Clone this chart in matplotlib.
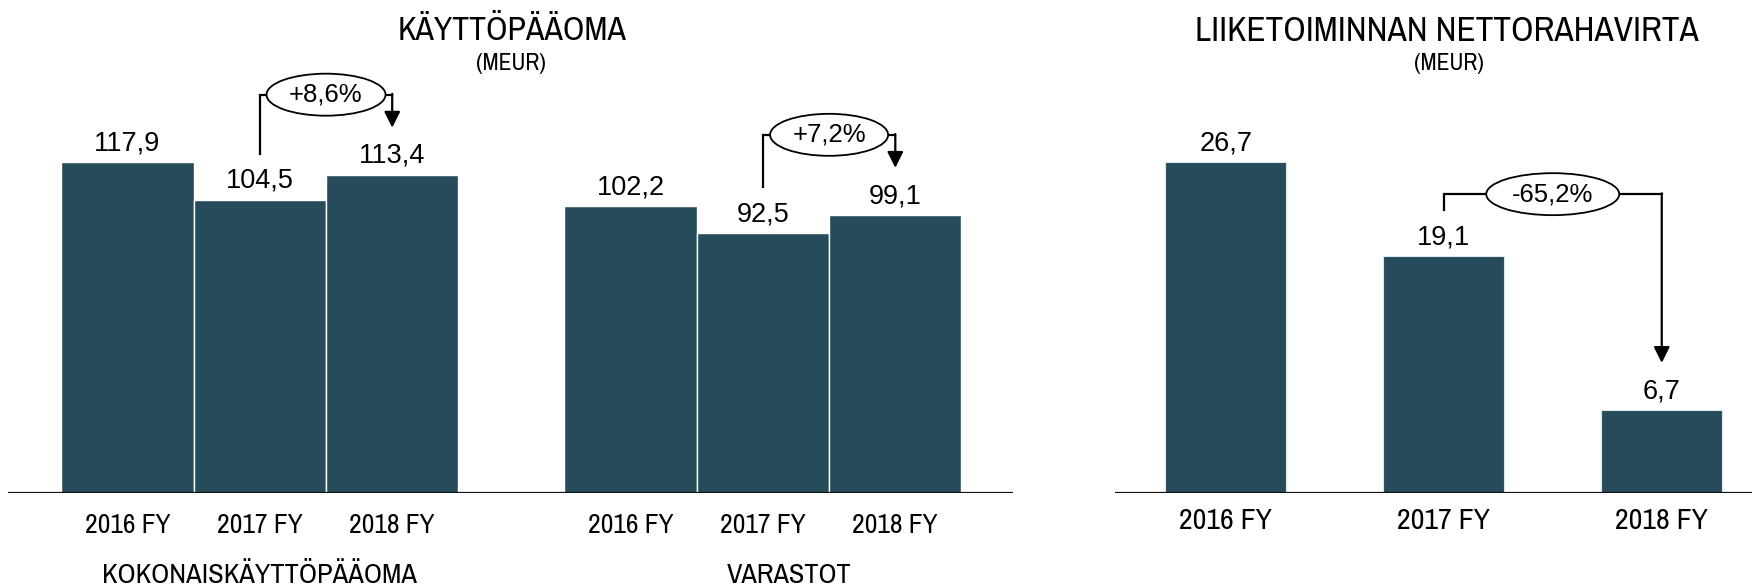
import matplotlib
matplotlib.use("Agg")
import matplotlib.pyplot as plt
from matplotlib import font_manager
from matplotlib.patches import Ellipse

# ── Data ───────────────────────────────────────────────────────────────────
YEARS = ["2016 FY", "2017 FY", "2018 FY"]
WC_TOTAL = [117.9, 104.5, 113.4]       # Kokonaiskäyttöpääoma
WC_STOCK = [102.2, 92.5, 99.1]         # Varastot
CASHFLOW = [26.7, 19.1, 6.7]           # Liiketoiminnan nettorahavirta
GROUP_NAMES = ["KOKONAISKÄYTTÖPÄÄOMA", "VARASTOT"]
CHANGE_LEFT = ["+8,6%", "+7,2%"]       # 2017 -> 2018
CHANGE_RIGHT = "-65,2%"                # 2017 -> 2018

TITLE_LEFT = "KÄYTTÖPÄÄOMA"
TITLE_RIGHT = "LIIKETOIMINNAN NETTORAHAVIRTA"
UNIT = "(MEUR)"

BAR_COLOR = "#264c5b"
ARIAL = ["Liberation Sans", "DejaVu Sans"]

# pick a narrow/condensed face if one is installed
_fonts = font_manager.fontManager.ttflist
COND = dict(family=["Roboto", "DejaVu Sans"])
for f in _fonts:
    if ("Narrow" in f.name or "Condensed" in f.name) and f.style == "normal" \
            and f.weight in (400, "normal", "regular"):
        COND = dict(family=[f.name, "DejaVu Sans"])
        break
else:
    for f in _fonts:
        if f.stretch in ("condensed", "semi-condensed") and f.style == "normal" \
                and f.weight in (400, "normal", "regular"):
            COND = dict(family=[f.name, "DejaVu Sans"], fontstretch=f.stretch)
            break

W, H = 1752, 587
fig = plt.figure(figsize=(W / 100, H / 100), dpi=100)

BASE_PX = 493      # baseline, pixels from top
TOP_PX = 10
FIT = []           # (text, target width px)


def axes_px(x0, x1):
    return fig.add_axes([x0 / W, (H - BASE_PX) / H,
                         (x1 - x0) / W, (BASE_PX - TOP_PX) / H])


def fmt(v):
    return f"{v:.1f}".replace(".", ",")


def ppu(ax):
    y0, y1 = ax.get_ylim()
    x0, x1 = ax.get_xlim()
    return (ax.bbox.width / (x1 - x0), ax.bbox.height / (y1 - y0))


def bracket(ax, xa, va, xb, vb, level_px_above, label, ell_w):
    """Line up from bar a, across, arrow down onto bar b, ellipse label."""
    px, py = ppu(ax)
    ya = va + 46 / py
    yb = vb + 47 / py
    lvl = max(va, vb) + level_px_above / py
    ax.plot([xa, xa, xb], [ya, lvl, lvl], color="black", lw=1.6,
            solid_joinstyle="miter", zorder=4, clip_on=False)
    ax.annotate("", xy=(xb, yb), xytext=(xb, lvl + 0.8 / py),
                arrowprops=dict(arrowstyle="-|>", color="black", lw=1.6,
                                mutation_scale=24, shrinkA=0, shrinkB=0),
                zorder=4, annotation_clip=False)
    xm = (xa + xb) / 2
    ax.add_patch(Ellipse((xm, lvl), ell_w / px, 42 / py,
                         facecolor="white", edgecolor="black", lw=1.3,
                         zorder=5, clip_on=False))
    ax.text(xm, lvl, label, ha="center", va="center", fontsize=18.5,
            family=ARIAL, zorder=6)


def value_labels(ax, xs, vals):
    for x, v in zip(xs, vals):
        ax.annotate(fmt(v), xy=(x, v), xytext=(0, 8.5),
                    textcoords="offset points", ha="center",
                    va="baseline", fontsize=19.5, family=ARIAL)


def under(ax, x, text, dy_pt, width_px):
    t = ax.annotate(text, xy=(x, 0), xytext=(0, dy_pt),
                    textcoords="offset points", ha="center", va="center",
                    fontsize=20, **COND)
    FIT.append((t, width_px))


def clean(ax):
    for s in ax.spines.values():
        s.set_visible(False)
    ax.set_xticks([])
    ax.set_yticks([])
    ax.axhline(0, color="#111111", lw=1.6, zorder=3)


# ── Left: käyttöpääoma ─────────────────────────────────────────────────────
axl = axes_px(8, 1013)
LEFT_PPU = 2.807
axl.set_xlim(-0.902, 6.689)
axl.set_ylim(0, (BASE_PX - TOP_PX) / LEFT_PPU)
clean(axl)

offsets = [0.0, 3.8]
for g, (vals, off) in enumerate(zip([WC_TOTAL, WC_STOCK], offsets)):
    xs = [off + i for i in range(len(YEARS))]
    axl.bar(xs, vals, width=1.0, color=BAR_COLOR, edgecolor="white",
            linewidth=1.0, zorder=2)
    value_labels(axl, xs, vals)
    for x, lab in zip(xs, YEARS):
        under(axl, x, lab, -23.5, 86)
    gx = off + 1 if g == 0 else off + 1.2
    under(axl, gx, GROUP_NAMES[g], -59.5, [316, 125][g])
    bracket(axl, xs[1], vals[1], xs[2], vals[2], 80, CHANGE_LEFT[g],
            [119, 118][g])

t = fig.text(512 / W, 1 - 31 / H, TITLE_LEFT, ha="center", va="center",
             fontsize=27, **COND)
FIT.append((t, 229))
t = fig.text(511 / W, 1 - 64 / H, UNIT, ha="center", va="center",
             fontsize=15, **COND)
FIT.append((t, 70))

# ── Right: liiketoiminnan nettorahavirta ───────────────────────────────────
axr = axes_px(1115, W)
RIGHT_PPU = 12.40
axr.set_xlim(-0.508, 2.414)
axr.set_ylim(0, (BASE_PX - TOP_PX) / RIGHT_PPU)
clean(axr)

xr = list(range(len(YEARS)))
axr.bar(xr, CASHFLOW, width=0.555, color=BAR_COLOR, edgecolor="#dfe6e9",
        linewidth=0.8, zorder=2)
value_labels(axr, xr, CASHFLOW)
for x, lab in zip(xr, YEARS):
    under(axr, x, lab, -19.5, 93)
bracket(axr, xr[1], CASHFLOW[1], xr[2], CASHFLOW[2], 62, CHANGE_RIGHT, 133)

t = fig.text(1447 / W, 1 - 31 / H, TITLE_RIGHT, ha="center", va="center",
             fontsize=27, **COND)
FIT.append((t, 503))
t = fig.text(1449 / W, 1 - 64 / H, UNIT, ha="center", va="center",
             fontsize=15, **COND)
FIT.append((t, 70))

# scale the narrow-font texts to the widths they take in the original
renderer = fig.canvas.get_renderer()
for t, w in FIT:
    bw = t.get_window_extent(renderer).width
    t.set_fontsize(t.get_fontsize() * w / bw)

fig.savefig("out.png", dpi=100)
